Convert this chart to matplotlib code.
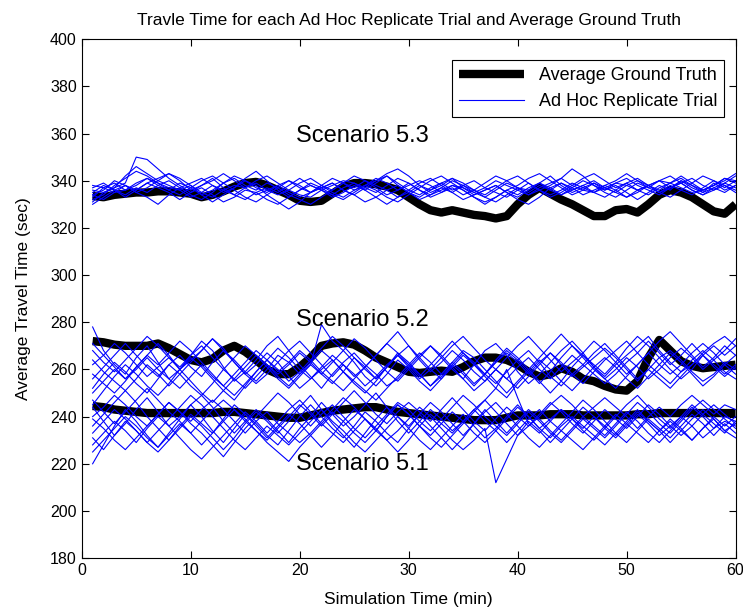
import matplotlib.pyplot as plt
import numpy as np

# simulation minutes 1..60
minutes = np.arange(1, 61)

# average ground truth per scenario
gt_51 = [244.5, 244, 243, 242.5, 242, 241.5, 241.5, 241.5, 241.5, 241.5,
         241.5, 241.5, 242, 242, 241.5, 241, 240.5, 240, 239.5, 239.5,
         240.5, 241.5, 242.5, 243, 243.5, 244, 244, 243, 242, 241.5,
         241, 240.5, 240, 239.5, 239, 238.5, 238.5, 238.5, 239.5, 240.5,
         240.5, 240.5, 241, 241, 241, 240.5, 240.5, 240.5, 240.5, 240.5,
         241, 241, 241.5, 241.5, 241.5, 241.5, 241.5, 241.5, 241.5, 241.5]
gt_52 = [272, 271.5, 270.5, 270, 270, 270, 271, 269, 266.5, 264,
         263, 264.5, 268, 270, 267.5, 264, 260, 258, 258, 261,
         265, 270, 271, 271.5, 270.5, 268, 265, 263, 261, 259,
         258.5, 259, 259.5, 259, 261, 263.5, 265, 265, 264, 262,
         259, 257, 258, 260.5, 259, 256, 255, 253, 251.5, 251,
         255, 265, 272.5, 268, 263.5, 261.5, 260.5, 261, 261.5, 262]
gt_53 = [333.5, 333, 334, 334.5, 335, 335, 335.5, 335.5, 335, 334.5,
         333, 334, 335.5, 337.5, 339, 339.5, 338, 336, 334, 331.5,
         331, 331.5, 334.5, 337.5, 339, 339, 338.5, 337.5, 336, 333,
         330, 327.5, 326.5, 327.5, 326.5, 325.5, 325, 324, 325, 330,
         334, 337, 334.5, 332, 330, 327.5, 325, 325, 327.5, 328,
         326.5, 330, 334, 336, 335, 333, 330, 327, 326, 330]

# ad hoc replicate trials (estimated from the tangle of blue lines)
rep_53 = [
    [332, 334, 338, 341, 344, 342, 339, 337, 336, 338, 335, 333, 336, 338, 337, 340, 342, 339, 336, 334,
     333, 336, 338, 340, 339, 337, 335, 338, 341, 339, 336, 334, 336, 338, 337, 335, 337, 340, 338, 336,
     334, 337, 339, 341, 338, 336, 335, 337, 339, 338, 336, 338, 340, 339, 337, 335, 336, 338, 340, 343],
    [336, 335, 337, 339, 350, 349, 345, 341, 338, 335, 337, 334, 331, 333, 336, 335, 332, 330, 333, 336,
     338, 336, 334, 337, 339, 336, 333, 330, 333, 336, 339, 341, 338, 335, 332, 334, 336, 338, 335, 333,
     336, 339, 337, 334, 336, 338, 340, 337, 335, 333, 336, 338, 336, 339, 341, 338, 335, 337, 339, 337],
    [330, 333, 336, 338, 335, 337, 340, 343, 341, 338, 334, 331, 334, 337, 341, 344, 340, 336, 333, 336,
     339, 337, 334, 332, 335, 338, 336, 333, 331, 334, 337, 340, 342, 339, 336, 333, 330, 333, 336, 338,
     341, 343, 340, 337, 334, 336, 339, 337, 335, 338, 340, 338, 335, 333, 336, 339, 342, 340, 337, 340],
    [338, 337, 335, 336, 339, 341, 338, 336, 339, 337, 334, 336, 339, 342, 340, 337, 335, 338, 340, 337,
     335, 338, 341, 339, 336, 338, 340, 343, 345, 342, 338, 335, 337, 340, 338, 335, 333, 336, 339, 337,
     334, 336, 338, 341, 345, 342, 338, 336, 339, 341, 338, 336, 334, 337, 340, 338, 336, 338, 341, 339],
    [334, 336, 340, 338, 335, 333, 330, 334, 337, 339, 341, 338, 335, 337, 340, 338, 334, 331, 328, 331,
     335, 338, 336, 339, 342, 340, 337, 334, 336, 339, 336, 333, 335, 338, 336, 333, 331, 333, 336, 334,
     337, 339, 336, 334, 337, 340, 338, 335, 333, 336, 339, 337, 340, 342, 339, 336, 334, 337, 335, 338],
    [331, 335, 337, 342, 346, 343, 340, 338, 336, 333, 335, 338, 336, 334, 337, 339, 336, 334, 336, 339,
     341, 338, 335, 333, 336, 338, 341, 339, 336, 338, 340, 338, 335, 337, 334, 336, 339, 342, 340, 337,
     335, 338, 336, 339, 337, 334, 336, 338, 336, 333, 335, 338, 340, 337, 339, 341, 338, 336, 339, 342],
    [335, 338, 336, 334, 337, 335, 338, 340, 337, 334, 332, 335, 339, 341, 338, 336, 339, 337, 334, 332,
     330, 333, 336, 339, 337, 340, 338, 336, 333, 335, 338, 336, 339, 341, 339, 336, 334, 337, 340, 342,
     339, 336, 334, 336, 339, 337, 335, 338, 340, 343, 340, 337, 335, 337, 339, 336, 334, 336, 338, 336],
    [333, 337, 339, 336, 338, 341, 339, 336, 334, 337, 340, 342, 339, 336, 333, 331, 334, 337, 340, 338,
     335, 337, 339, 336, 334, 331, 333, 336, 338, 335, 333, 336, 338, 341, 337, 334, 336, 338, 335, 332,
     330, 333, 337, 339, 336, 338, 335, 333, 336, 339, 341, 338, 335, 338, 336, 334, 337, 340, 338, 335],
    [337, 339, 336, 333, 336, 339, 341, 343, 340, 336, 338, 341, 337, 334, 332, 335, 337, 335, 338, 341,
     338, 336, 333, 335, 338, 336, 339, 342, 339, 336, 334, 337, 339, 336, 338, 340, 337, 335, 333, 336,
     339, 336, 333, 335, 338, 341, 343, 340, 337, 339, 336, 334, 337, 339, 342, 339, 336, 338, 341, 340],
    [334, 332, 335, 338, 336, 339, 337, 335, 332, 335, 338, 340, 343, 340, 337, 334, 336, 338, 335, 333,
     335, 337, 339, 336, 334, 337, 340, 342, 338, 335, 332, 334, 337, 335, 338, 336, 333, 331, 334, 337,
     336, 339, 342, 338, 335, 337, 339, 336, 338, 335, 332, 335, 338, 336, 340, 337, 335, 339, 336, 338],
]
rep_52 = [
    [278, 268, 262, 258, 265, 270, 263, 256, 260, 266, 272, 268, 261, 255, 259, 264, 270, 274, 268, 262,
     257, 252, 258, 263, 267, 262, 258, 253, 256, 261, 266, 270, 265, 260, 256, 262, 268, 271, 266, 259,
     254, 258, 263, 268, 272, 267, 261, 257, 262, 266, 270, 274, 268, 263, 259, 262, 267, 271, 274, 270],
    [252, 258, 263, 259, 254, 250, 256, 262, 266, 261, 257, 263, 268, 264, 259, 255, 260, 266, 263, 258,
     262, 279, 272, 268, 263, 257, 253, 258, 264, 260, 255, 251, 256, 262, 267, 263, 258, 254, 259, 264,
     268, 263, 257, 253, 258, 262, 267, 271, 266, 261, 256, 260, 265, 268, 264, 259, 255, 258, 263, 260],
    [262, 266, 271, 267, 262, 257, 261, 265, 260, 255, 250, 246, 251, 256, 261, 266, 262, 257, 253, 258,
     263, 268, 264, 259, 254, 250, 255, 261, 266, 270, 265, 260, 256, 261, 266, 262, 257, 252, 248, 254,
     259, 264, 260, 255, 251, 256, 261, 265, 261, 256, 252, 257, 262, 267, 263, 258, 253, 257, 262, 258],
    [258, 254, 250, 255, 261, 266, 271, 266, 260, 264, 268, 273, 269, 263, 258, 262, 267, 263, 257, 252,
     256, 261, 266, 262, 257, 261, 266, 271, 276, 270, 264, 259, 263, 268, 264, 259, 255, 260, 265, 270,
     274, 269, 264, 259, 263, 267, 272, 268, 263, 258, 262, 267, 272, 276, 271, 266, 261, 265, 270, 266],
    [245, 251, 257, 262, 258, 253, 249, 254, 260, 265, 261, 256, 251, 247, 253, 259, 264, 260, 255, 259,
     264, 269, 274, 270, 265, 260, 256, 261, 267, 263, 258, 253, 258, 263, 259, 254, 258, 264, 269, 265,
     260, 255, 250, 255, 261, 266, 262, 258, 263, 269, 274, 270, 265, 260, 256, 260, 266, 262, 258, 262],
    [268, 263, 259, 264, 269, 274, 270, 265, 261, 266, 270, 265, 260, 256, 252, 257, 262, 258, 262, 267,
     263, 258, 254, 259, 265, 261, 256, 261, 266, 262, 257, 262, 267, 272, 267, 262, 258, 263, 268, 264,
     259, 254, 259, 265, 270, 266, 261, 256, 260, 265, 261, 256, 260, 265, 269, 265, 260, 264, 268, 273],
    [256, 261, 266, 271, 266, 261, 257, 262, 258, 253, 249, 254, 260, 265, 270, 266, 261, 256, 252, 257,
     262, 258, 263, 268, 273, 269, 264, 259, 255, 260, 265, 270, 266, 261, 256, 251, 255, 260, 256, 252,
     257, 262, 267, 263, 258, 254, 259, 264, 268, 272, 267, 262, 258, 254, 259, 264, 268, 264, 259, 256],
    [264, 259, 255, 251, 256, 262, 258, 253, 258, 263, 268, 273, 268, 263, 258, 254, 258, 263, 268, 272,
     267, 262, 257, 262, 258, 253, 257, 262, 266, 261, 256, 260, 265, 270, 274, 269, 264, 260, 256, 261,
     265, 260, 256, 261, 266, 262, 258, 254, 258, 263, 267, 272, 267, 262, 266, 271, 266, 261, 257, 261],
    [250, 255, 260, 256, 261, 266, 262, 267, 272, 268, 263, 258, 253, 249, 254, 259, 264, 269, 265, 260,
     256, 260, 264, 259, 255, 251, 247, 252, 257, 262, 267, 263, 258, 263, 268, 265, 260, 255, 250, 255,
     260, 265, 270, 275, 270, 265, 260, 256, 252, 257, 262, 267, 262, 258, 262, 267, 271, 267, 262, 266],
    [271, 266, 261, 256, 260, 265, 260, 256, 252, 257, 262, 257, 253, 258, 263, 268, 264, 259, 263, 268,
     264, 259, 255, 251, 256, 261, 266, 271, 267, 262, 258, 253, 257, 262, 258, 253, 258, 263, 267, 263,
     258, 263, 267, 262, 257, 261, 265, 269, 265, 260, 255, 260, 256, 252, 257, 262, 266, 270, 266, 270],
]
rep_51 = [
    [220, 228, 236, 243, 238, 232, 227, 233, 239, 245, 240, 234, 229, 235, 241, 237, 232, 228, 234, 240,
     245, 240, 235, 231, 236, 242, 238, 233, 229, 235, 241, 236, 231, 226, 231, 237, 243, 238, 233, 238,
     243, 239, 234, 230, 235, 240, 236, 232, 237, 242, 238, 233, 229, 234, 239, 244, 240, 235, 238, 236],
    [244, 238, 232, 237, 243, 248, 242, 236, 240, 245, 249, 244, 238, 233, 238, 243, 239, 234, 229, 235,
     240, 246, 241, 236, 240, 245, 250, 244, 238, 233, 238, 243, 239, 234, 238, 243, 247, 242, 237, 232,
     236, 241, 246, 242, 237, 233, 238, 243, 239, 235, 240, 245, 241, 236, 232, 236, 241, 245, 241, 237],
    [236, 241, 246, 251, 246, 240, 235, 230, 235, 240, 236, 231, 226, 231, 237, 242, 238, 233, 238, 244,
     249, 243, 237, 232, 227, 233, 239, 244, 240, 235, 230, 226, 231, 236, 241, 236, 231, 235, 240, 245,
     240, 235, 231, 236, 240, 236, 232, 228, 233, 238, 243, 238, 234, 229, 234, 239, 243, 239, 234, 231],
    [231, 226, 232, 238, 234, 229, 225, 230, 236, 241, 237, 233, 239, 245, 241, 236, 231, 236, 241, 237,
     232, 227, 232, 238, 243, 239, 234, 230, 234, 239, 244, 240, 235, 230, 226, 230, 235, 212, 222, 232,
     238, 234, 229, 234, 239, 244, 240, 235, 231, 236, 241, 237, 232, 236, 240, 245, 241, 237, 233, 238],
    [240, 244, 249, 245, 240, 236, 241, 246, 242, 237, 233, 228, 223, 229, 235, 240, 245, 250, 246, 241,
     236, 241, 245, 240, 235, 231, 236, 241, 246, 243, 238, 234, 239, 244, 249, 245, 240, 236, 232, 237,
     242, 238, 233, 229, 234, 239, 235, 231, 236, 241, 246, 242, 237, 233, 238, 243, 247, 243, 239, 235],
    [228, 233, 238, 234, 229, 235, 240, 236, 231, 226, 222, 227, 232, 237, 242, 238, 233, 238, 243, 247,
     242, 237, 233, 229, 234, 239, 235, 230, 225, 230, 236, 241, 237, 233, 238, 243, 238, 234, 229, 234,
     239, 243, 238, 234, 230, 226, 231, 236, 241, 237, 233, 229, 234, 238, 234, 230, 235, 240, 236, 240],
    [247, 242, 237, 242, 247, 252, 247, 242, 238, 233, 238, 243, 247, 243, 238, 234, 230, 235, 240, 245,
     241, 236, 241, 246, 251, 246, 241, 237, 242, 246, 242, 238, 243, 248, 243, 238, 234, 239, 244, 240,
     236, 240, 245, 249, 245, 240, 244, 248, 244, 240, 235, 240, 244, 240, 245, 249, 245, 241, 245, 243],
    [233, 238, 243, 239, 234, 229, 234, 239, 244, 249, 245, 240, 235, 230, 226, 231, 236, 232, 228, 233,
     238, 243, 238, 234, 229, 225, 230, 235, 240, 236, 241, 246, 242, 237, 232, 237, 242, 246, 241, 236,
     231, 227, 232, 237, 242, 247, 243, 238, 233, 229, 234, 239, 235, 231, 236, 241, 237, 232, 237, 233],
    [239, 235, 230, 226, 231, 236, 241, 246, 242, 238, 243, 247, 243, 238, 233, 238, 242, 237, 233, 229,
     233, 238, 243, 248, 244, 239, 234, 240, 245, 241, 236, 232, 237, 242, 238, 233, 229, 234, 239, 244,
     240, 235, 239, 243, 239, 234, 230, 235, 240, 245, 249, 244, 239, 235, 240, 236, 231, 235, 240, 238],
    [225, 230, 235, 240, 236, 231, 227, 232, 237, 233, 228, 233, 238, 243, 239, 234, 229, 225, 221, 227,
     232, 237, 242, 238, 233, 229, 234, 240, 245, 241, 236, 231, 227, 232, 237, 242, 247, 252, 260, 248,
     237, 233, 238, 243, 239, 235, 240, 236, 232, 237, 242, 238, 234, 239, 235, 230, 235, 239, 234, 237],
]

plt.rcParams['font.family'] = ['Liberation Sans', 'DejaVu Sans']

fig = plt.figure(figsize=(7.43, 6.12), dpi=100)
ax = fig.add_axes([0.110, 0.088, 0.880, 0.848])

# ground truth first, replicates drawn over it
gt_line = None
for gt in [gt_53, gt_52, gt_51]:
    gt_line, = ax.plot(minutes, gt, color='black', linewidth=6, solid_capstyle='butt')

rep_line = None
for reps in [rep_53, rep_52, rep_51]:
    for r in reps:
        rep_line, = ax.plot(np.arange(1, len(r) + 1), r, color='#0000ff', linewidth=0.8)

ax.text(19.7, 359, 'Scenario 5.3', fontsize=17, va='center')
ax.text(19.7, 281, 'Scenario 5.2', fontsize=17, va='center')
ax.text(19.7, 220, 'Scenario 5.1', fontsize=17, va='center')

ax.set_xlim(0, 60)
ax.set_ylim(180, 400)
ax.set_xticks(np.arange(0, 61, 10))
ax.set_yticks(np.arange(180, 401, 20))
ax.tick_params(direction='in', top=True, right=True, labelsize=11.5, length=5)

ax.set_title('Travle Time for each Ad Hoc Replicate Trial and Average Ground Truth', fontsize=12.5, pad=10)
ax.set_xlabel('Simulation Time (min)', fontsize=12.5, labelpad=10)
ax.set_ylabel('Average Travel Time (sec)', fontsize=12.5, labelpad=14)

leg = ax.legend([gt_line, rep_line], ['Average Ground Truth', 'Ad Hoc Replicate Trial'],
                loc='upper right', bbox_to_anchor=(0.983, 0.96), borderaxespad=0,
                fontsize=13, fancybox=False, framealpha=1,
                edgecolor='black', handlelength=3.6)
leg.get_frame().set_linewidth(0.8)

fig.savefig('out.png', dpi=100)
